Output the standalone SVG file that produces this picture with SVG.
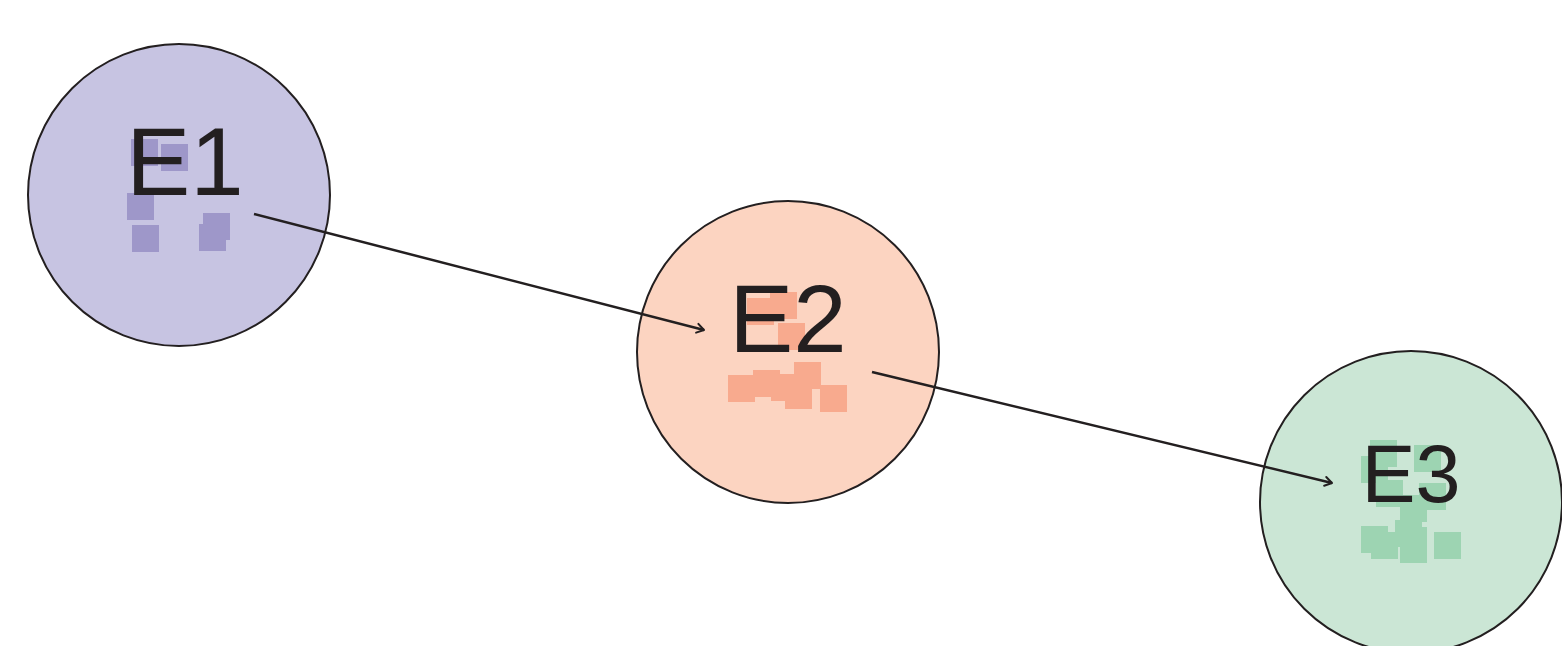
<svg xmlns="http://www.w3.org/2000/svg" width="1562" height="646" viewBox="0 0 1562 646">
  <defs>
    <marker id="open-arrow" viewBox="0 0 12 12" refX="10" refY="6" markerWidth="12" markerHeight="12" markerUnits="userSpaceOnUse" orient="auto">
      <path d="M3,1.5 L10,6 L3,10.5" fill="none" stroke="#231f20" stroke-width="2" stroke-linecap="round" stroke-linejoin="round"/>
    </marker>
  </defs>
  <style>
    .node { stroke: #231f20; stroke-width: 2; }
    .label { font-family: "Liberation Sans", Arial, sans-serif; font-size: 96px; fill: #231f20; text-anchor: middle; }
    .edge { fill: none; stroke: #231f20; stroke-width: 2.5; marker-end: url(#open-arrow); }
    .sq1 { fill: #9e97c9; }
    .sq2 { fill: #f8aa8e; }
    .sq3 { fill: #9dd4b2; }
  </style>
  <rect width="1562" height="646" fill="#ffffff"/>

  <g id="E1">
    <circle class="node" cx="179" cy="195" r="151" fill="#c7c4e2"/>
    <g class="sq1">
      <rect x="131" y="139" width="27" height="27"/>
      <rect x="161" y="144" width="27" height="27"/>
      <rect x="127" y="193" width="27" height="27"/>
      <rect x="132" y="225" width="27" height="27"/>
      <rect x="203" y="213" width="27" height="27"/>
      <rect x="199" y="224" width="27" height="27"/>
    </g>
    <text class="label" x="185" y="195">E1</text>
  </g>

  <g id="E2">
    <circle class="node" cx="788" cy="352" r="151" fill="#fcd4c1"/>
    <g class="sq2">
      <rect x="747" y="298" width="27" height="27"/>
      <rect x="770" y="292" width="27" height="27"/>
      <rect x="778" y="323" width="27" height="27"/>
      <rect x="728" y="375" width="27" height="27"/>
      <rect x="753" y="370" width="27" height="27"/>
      <rect x="771" y="374" width="27" height="27"/>
      <rect x="785" y="382" width="27" height="27"/>
      <rect x="794" y="362" width="27" height="27"/>
      <rect x="820" y="385" width="27" height="27"/>
    </g>
    <text class="label" x="788" y="352">E2</text>
  </g>

  <g id="E3">
    <circle class="node" cx="1411" cy="502" r="151" fill="#cbe6d5"/>
    <g class="sq3">
      <rect x="1370" y="440" width="27" height="27"/>
      <rect x="1361" y="456" width="27" height="27"/>
      <rect x="1414" y="445" width="27" height="27"/>
      <rect x="1376" y="480" width="27" height="27"/>
      <rect x="1419" y="483" width="27" height="27"/>
      <rect x="1400" y="495" width="27" height="27"/>
      <rect x="1395" y="520" width="27" height="27"/>
      <rect x="1361" y="526" width="27" height="27"/>
      <rect x="1371" y="532" width="27" height="27"/>
      <rect x="1400" y="527" width="27" height="27"/>
      <rect x="1400" y="536" width="27" height="27"/>
      <rect x="1434" y="532" width="27" height="27"/>
    </g>
    <text class="label" x="1411" y="502" style="font-size:81px">E3</text>
  </g>

  <g id="connectors">
    <line class="edge" x1="254" y1="214" x2="704" y2="330"/>
    <line class="edge" x1="872" y1="372" x2="1332" y2="483"/>
  </g>
</svg>
